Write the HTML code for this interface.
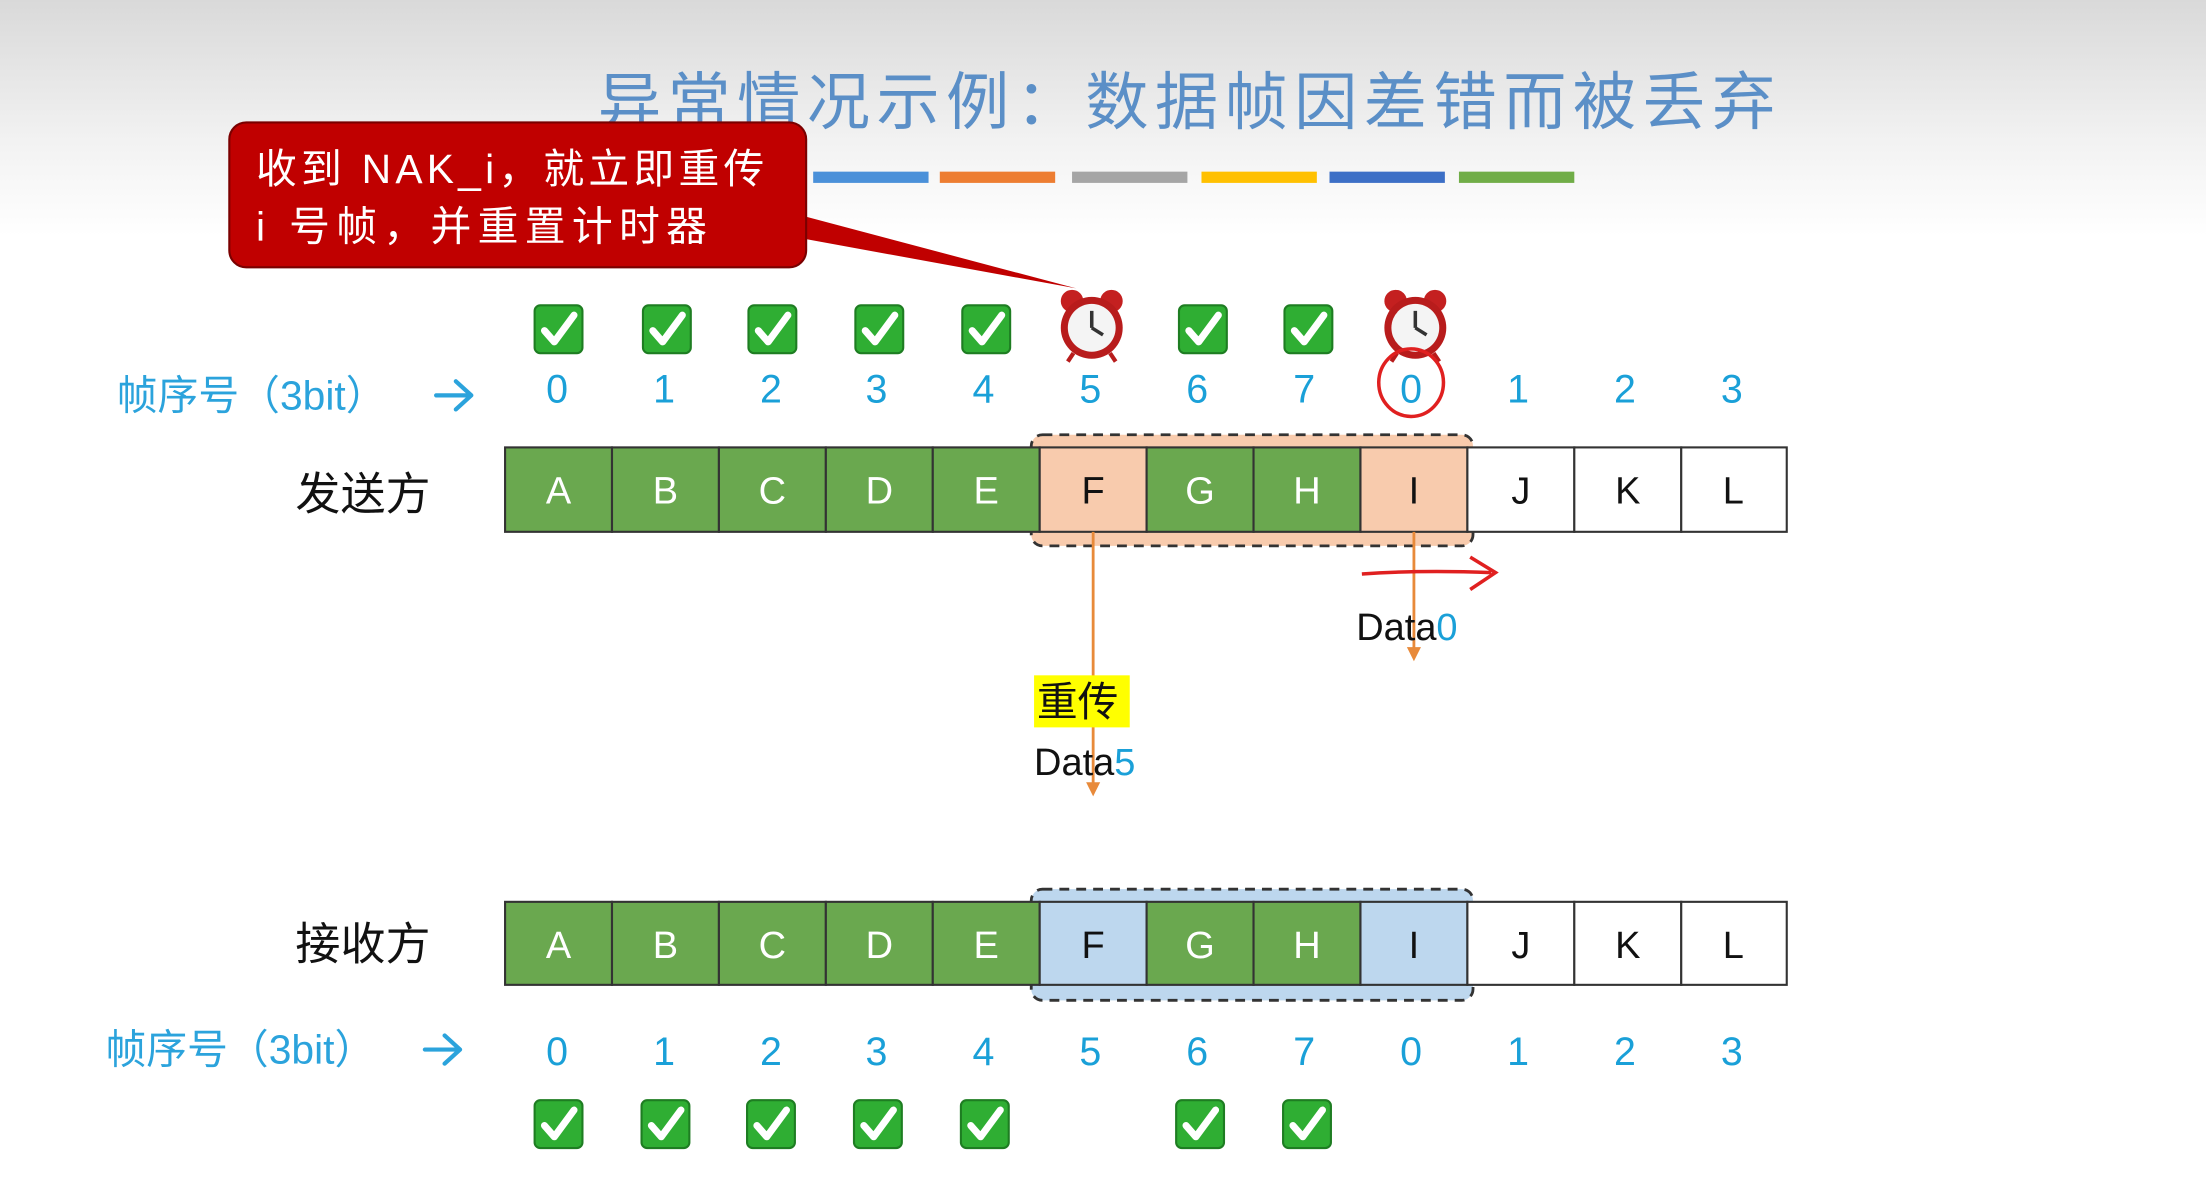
<!DOCTYPE html>
<html><head><meta charset="utf-8"><style>
html,body{margin:0;padding:0;background:#fff;overflow:hidden}
svg{display:block}
text{font-family:"Liberation Sans","Noto Sans CJK SC",sans-serif}
</style></head><body>
<svg width="2206" height="1179" viewBox="0 0 1568 838" preserveAspectRatio="none" xmlns="http://www.w3.org/2000/svg">
<defs>
<linearGradient id="bg" x1="0" y1="0" x2="0" y2="1">
<stop offset="0" stop-color="#d9d9d9"/><stop offset="0.12" stop-color="#f2f2f2"/><stop offset="0.2" stop-color="#fff"/>
</linearGradient>
<g id="chk"><rect x="-17" y="-17" width="34" height="34" rx="4" fill="#2fae33"/><rect x="-17" y="-17" width="34" height="34" rx="4" fill="none" stroke="#1e7d22" stroke-width="1.5"/><path d="M-10 1 L-3 9 L11 -10" stroke="#fff" stroke-width="5" fill="none" stroke-linecap="round" stroke-linejoin="round"/></g>
<g id="alarm"><circle cx="-14" cy="-16" r="8" fill="#c42020"/><circle cx="14" cy="-16" r="8" fill="#c42020"/><circle cx="0" cy="3" r="22" fill="#b81c1c"/><circle cx="0" cy="3" r="17" fill="#f4f4f4"/><path d="M0 3 V-9 M0 3 L8 8" stroke="#333" stroke-width="2.5"/><path d="M-13 21 L-17 27 M13 21 L17 27" stroke="#b81c1c" stroke-width="3"/></g>
<g id="arr"><path d="M0 0 H24 M14 -10 L25 0 L14 10" stroke="#2ba3dc" stroke-width="3" fill="none" stroke-linecap="round" stroke-linejoin="round"/></g>
</defs>
<rect width="1568" height="838" fill="url(#bg)"/>
<text x="425" y="88" font-size="45" fill="#5b8fc7" letter-spacing="4.5">异常情况示例：数据帧因差错而被丢弃</text>
<g>
<rect x="578" y="122" width="82" height="8" fill="#4a90d9"/>
<rect x="668" y="122" width="82" height="8" fill="#ed7d31"/>
<rect x="762" y="122" width="82" height="8" fill="#a5a5a5"/>
<rect x="854" y="122" width="82" height="8" fill="#ffc000"/>
<rect x="945" y="122" width="82" height="8" fill="#3c6fc6"/>
<rect x="1037" y="122" width="82" height="8" fill="#70ad47"/>
</g>
<polygon points="520,140 573,170 765,205" fill="#c00000"/>
<rect x="163" y="87" width="410" height="103" rx="12" fill="#c00000" stroke="#7a0000" stroke-width="1.5"/>
<text x="182" y="130" font-size="29" fill="#fff" letter-spacing="3">收到 NAK_i，就立即重传</text>
<text x="182" y="171" font-size="29" fill="#fff" letter-spacing="4.5">i 号帧，并重置计时器</text>
<use href="#chk" x="397" y="234"/><use href="#chk" x="474" y="234"/><use href="#chk" x="549" y="234"/><use href="#chk" x="625" y="234"/><use href="#chk" x="701" y="234"/>
<use href="#alarm" x="776" y="230"/>
<use href="#chk" x="855" y="234"/><use href="#chk" x="930" y="234"/>
<use href="#alarm" x="1006" y="230"/>
<text x="83" y="291" font-size="29" fill="#2ba3dc">帧序号（3bit）</text>
<use href="#arr" x="310" y="281"/>
<text x="75" y="756" font-size="29" fill="#2ba3dc">帧序号（3bit）</text>
<use href="#arr" x="302" y="746"/>
<g font-size="28" fill="#1aa0d8" text-anchor="middle">
<text x="396" y="286">0</text><text x="472" y="286">1</text><text x="548" y="286">2</text><text x="623" y="286">3</text><text x="699" y="286">4</text><text x="775" y="286">5</text><text x="851" y="286">6</text><text x="927" y="286">7</text><text x="1003" y="286">0</text><text x="1079" y="286">1</text><text x="1155" y="286">2</text><text x="1231" y="286">3</text>
<text x="396" y="757">0</text><text x="472" y="757">1</text><text x="548" y="757">2</text><text x="623" y="757">3</text><text x="699" y="757">4</text><text x="775" y="757">5</text><text x="851" y="757">6</text><text x="927" y="757">7</text><text x="1003" y="757">0</text><text x="1079" y="757">1</text><text x="1155" y="757">2</text><text x="1231" y="757">3</text>
</g>
<ellipse cx="1003" cy="272" rx="23" ry="24" fill="none" stroke="#e02020" stroke-width="2.5"/>
<text x="210" y="362" font-size="32" fill="#111">发送方</text>
<rect x="733" y="309" width="314" height="79" rx="8" fill="#f8cbad" stroke="#333" stroke-width="2" stroke-dasharray="7,5"/>
<g stroke="#333" stroke-width="1.5">
<rect x="359" y="318" width="76" height="60" fill="#6aa84f"/><rect x="435" y="318" width="76" height="60" fill="#6aa84f"/><rect x="511" y="318" width="76" height="60" fill="#6aa84f"/><rect x="587" y="318" width="76" height="60" fill="#6aa84f"/><rect x="663" y="318" width="76" height="60" fill="#6aa84f"/>
<rect x="739" y="318" width="76" height="60" fill="#f8cbad"/><rect x="815" y="318" width="76" height="60" fill="#6aa84f"/><rect x="891" y="318" width="76" height="60" fill="#6aa84f"/><rect x="967" y="318" width="76" height="60" fill="#f8cbad"/>
<rect x="1043" y="318" width="76" height="60" fill="#fff"/><rect x="1119" y="318" width="76" height="60" fill="#fff"/><rect x="1195" y="318" width="75" height="60" fill="#fff"/>
</g>
<g font-size="27" text-anchor="middle">
<text x="397" y="358" fill="#fff">A</text><text x="473" y="358" fill="#fff">B</text><text x="549" y="358" fill="#fff">C</text><text x="625" y="358" fill="#fff">D</text><text x="701" y="358" fill="#fff">E</text><text x="777" y="358" fill="#111">F</text><text x="853" y="358" fill="#fff">G</text><text x="929" y="358" fill="#fff">H</text><text x="1005" y="358" fill="#111">I</text><text x="1081" y="358" fill="#111">J</text><text x="1157" y="358" fill="#111">K</text><text x="1232" y="358" fill="#111">L</text>
</g>
<line x1="777" y1="378" x2="777" y2="558" stroke="#e88a3a" stroke-width="2"/><polygon points="772,556 782,556 777,566" fill="#e88a3a"/>
<line x1="1005" y1="378" x2="1005" y2="462" stroke="#e88a3a" stroke-width="2"/><polygon points="1000,460 1010,460 1005,470" fill="#e88a3a"/>
<path d="M968 408 Q1010 405 1060 407 M1045 396 L1063 407 L1045 419" stroke="#e02020" stroke-width="2.5" fill="none"/>
<text x="964" y="455" font-size="27" fill="#111">Data<tspan fill="#1aa0d8">0</tspan></text>
<rect x="735" y="480" width="68" height="37" fill="#ffff00"/>
<text x="737" y="509" font-size="29" fill="#111">重传</text>
<text x="735" y="551" font-size="27" fill="#111">Data<tspan fill="#1aa0d8">5</tspan></text>
<text x="210" y="682" font-size="32" fill="#111">接收方</text>
<rect x="733" y="632" width="314" height="79" rx="8" fill="#bdd7ee" stroke="#333" stroke-width="2" stroke-dasharray="7,5"/>
<g stroke="#333" stroke-width="1.5">
<rect x="359" y="641" width="76" height="59" fill="#6aa84f"/><rect x="435" y="641" width="76" height="59" fill="#6aa84f"/><rect x="511" y="641" width="76" height="59" fill="#6aa84f"/><rect x="587" y="641" width="76" height="59" fill="#6aa84f"/><rect x="663" y="641" width="76" height="59" fill="#6aa84f"/>
<rect x="739" y="641" width="76" height="59" fill="#bdd7ee"/><rect x="815" y="641" width="76" height="59" fill="#6aa84f"/><rect x="891" y="641" width="76" height="59" fill="#6aa84f"/><rect x="967" y="641" width="76" height="59" fill="#bdd7ee"/>
<rect x="1043" y="641" width="76" height="59" fill="#fff"/><rect x="1119" y="641" width="76" height="59" fill="#fff"/><rect x="1195" y="641" width="75" height="59" fill="#fff"/>
</g>
<g font-size="27" text-anchor="middle">
<text x="397" y="681" fill="#fff">A</text><text x="473" y="681" fill="#fff">B</text><text x="549" y="681" fill="#fff">C</text><text x="625" y="681" fill="#fff">D</text><text x="701" y="681" fill="#fff">E</text><text x="777" y="681" fill="#111">F</text><text x="853" y="681" fill="#fff">G</text><text x="929" y="681" fill="#fff">H</text><text x="1005" y="681" fill="#111">I</text><text x="1081" y="681" fill="#111">J</text><text x="1157" y="681" fill="#111">K</text><text x="1232" y="681" fill="#111">L</text>
</g>
<use href="#chk" x="397" y="799"/><use href="#chk" x="473" y="799"/><use href="#chk" x="548" y="799"/><use href="#chk" x="624" y="799"/><use href="#chk" x="700" y="799"/><use href="#chk" x="853" y="799"/><use href="#chk" x="929" y="799"/>
</svg>
</body></html>
